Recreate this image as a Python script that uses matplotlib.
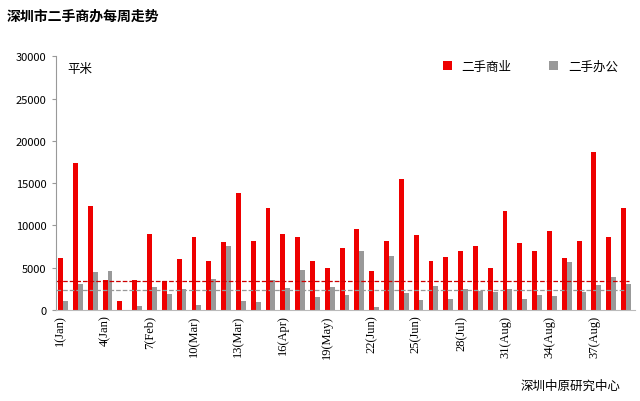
import numpy as np
import matplotlib.pyplot as plt

plt.rcParams['font.family'] = ['Noto Sans CJK SC', 'DejaVu Sans']

weeks = list(range(1, 40))
commercial = [6100, 17400, 12300, 3500, 1000, 3500, 9000, 3400, 6000, 8600,
              5800, 8000, 13800, 8100, 12000, 9000, 8600, 5800, 5000, 7300,
              9600, 4600, 8100, 15500, 8800, 5800, 6300, 6900, 7600, 4900,
              11700, 7900, 7000, 9300, 6100, 8200, 18700, 8600, 12000]
office = [1000, 3000, 4500, 4600, 0, 500, 2700, 1900, 2500, 600,
          3600, 7500, 1000, 900, 3500, 2600, 4700, 1500, 2700, 1700,
          6900, 300, 6400, 2000, 1100, 2800, 1300, 2500, 2200, 2100,
          2400, 1300, 1700, 1600, 5700, 2100, 2900, 3900, 3100]
tick_weeks = [1, 4, 7, 10, 13, 16, 19, 22, 25, 28, 31, 34, 37]
tick_labels = ["1(Jan)", "4(Jan)", "7(Feb)", "10(Mar)", "13(Mar)", "16(Apr)", "19(May)",
               "22(Jun)", "25(Jun)", "28(Jul)", "31(Aug)", "34(Aug)", "37(Aug)"]
avg_commercial = 3400
avg_office = 2350

fig = plt.figure(figsize=(6.4, 4.02), dpi=100)
ax = fig.add_axes([0.087, 0.227, 0.905, 0.63])
x = np.array(weeks)
w = 0.33
ax.bar(x - w / 2, commercial, w, color='#ee0000', label='二手商业')
ax.bar(x + w / 2, office, w, color='#999999', label='二手办公')
ax.axhline(avg_commercial, color='#cc0000', ls='--', lw=0.9, xmax=0.99)
ax.axhline(avg_office, color='#999999', ls='--', lw=0.9, xmax=0.99)

ax.set_xlim(0.5, 39.6)
ax.set_ylim(0, 30000)
ax.set_yticks(range(0, 30001, 5000))
ax.tick_params(axis='y', labelsize=8, length=3, color='#999999')
ax.set_xticks(np.array(tick_weeks) - w / 2)
ax.set_xticklabels(tick_labels, rotation=90, family='Liberation Serif', fontsize=9)
ax.tick_params(axis='x', length=0)
for s in ['top', 'right']:
    ax.spines[s].set_visible(False)
ax.spines['left'].set_color('#999999')
ax.spines['bottom'].set_color('#bbbbbb')

ax.text(0.02, 0.98, '平米', transform=ax.transAxes, fontsize=9, va='top')
ax.legend(loc='upper right', ncol=2, frameon=False, fontsize=9, handlelength=0.7,
          bbox_to_anchor=(0.99, 1.03), columnspacing=3)
fig.text(0.01, 0.975, '深圳市二手商办每周走势', fontsize=10, fontweight='bold', va='top')
fig.text(0.97, 0.03, '深圳中原研究中心', fontsize=9, ha='right')
fig.savefig('out.png')
